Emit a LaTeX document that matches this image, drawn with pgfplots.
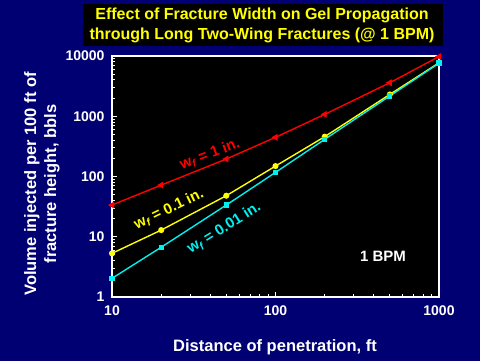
\documentclass[border=0pt]{standalone}
\usepackage{pgfplots}
\pgfplotsset{compat=1.18}
\usepackage{fontspec}
\setmainfont{Liberation Sans}
\definecolor{navy}{RGB}{0,0,115}
\definecolor{bblue}{RGB}{0,0,240}
\definecolor{cyanl}{RGB}{0,240,240}
\definecolor{yell}{RGB}{255,255,0}
\definecolor{redl}{RGB}{255,0,0}
\begin{document}
\begin{tikzpicture}
\shade[top color=navy, middle color=bblue, bottom color=navy] (0pt,0pt) rectangle (480pt,360pt);
\fill[black] (83pt,314pt) rectangle (443pt,356pt);
\node[text=yell, font=\bfseries\fontsize{16}{20}\selectfont, align=center] at (262pt,335pt) {Effect of Fracture Width on Gel Propagation\\through Long Two-Wing Fractures (@ 1 BPM)};
\begin{axis}[
  at={(112pt,63pt)}, anchor=south west,
  scale only axis, width=327pt, height=241pt,
  xmode=log, ymode=log,
  xmin=10, xmax=1000, ymin=1, ymax=10000,
  axis background/.style={fill=black},
  axis line style={white, line width=1.6pt},
  xtick={10,100,1000}, xticklabels={10,100,1000},
  ytick={1,10,100,1000,10000}, yticklabels={1,10,100,1000,10000},
  xtick pos=bottom, ytick pos=left,
  tick align=inside,
  major tick length=5pt, minor tick length=3pt,
  every tick/.style={white, line width=1pt},
  /pgf/number format/assume math mode=true,
  tick label style={text=white, font=\bfseries\fontsize{14}{14}\selectfont},
  xticklabel style={yshift=-5pt},
  yticklabel style={xshift=-4pt},
  clip=false,
]
\addplot[redl, line width=1.4pt, mark=triangle*, mark size=2.6pt, mark options={rotate=90}] coordinates {
 (10,33.6) (20,72) (50,195) (100,447) (200,1075) (500,3600) (1000,9800)};
\addplot[yell, line width=1.4pt, mark=*, mark size=2.3pt] coordinates {
 (10,5.3) (20,12.9) (50,48) (100,149) (200,458) (500,2300) (1000,7700)};
\addplot[cyanl, line width=1.4pt, mark=square*, mark size=2pt] coordinates {
 (10,2.04) (20,6.7) (50,33.6) (100,117) (200,414) (500,2170) (1000,7600)};
\node[text=redl, rotate=21, font=\bfseries\fontsize{15}{15}\selectfont] at (axis cs:39.7,235) {w\textsubscript{\itshape f} = 1 in.};
\node[text=yell, rotate=26, font=\bfseries\fontsize{15}{15}\selectfont] at (axis cs:22.3,28.5) {w\textsubscript{\itshape f} = 0.1 in.};
\node[text=cyanl, rotate=32, font=\bfseries\fontsize{15}{15}\selectfont] at (axis cs:48.5,13.8) {w\textsubscript{\itshape f} = 0.01 in.};
\node[text=white, font=\bfseries\fontsize{15}{15}\selectfont] at (axis cs:454,4.8) {1 BPM};
\end{axis}
\node[text=white, font=\bfseries\fontsize{16.5}{20}\selectfont] at (275pt,13pt) {Distance of penetration, ft};
\node[text=white, rotate=90, font=\bfseries\fontsize{16.5}{20}\selectfont, align=center] at (42pt,176pt) {Volume injected per 100 ft of\\fracture height, bbls};
\end{tikzpicture}
\end{document}
